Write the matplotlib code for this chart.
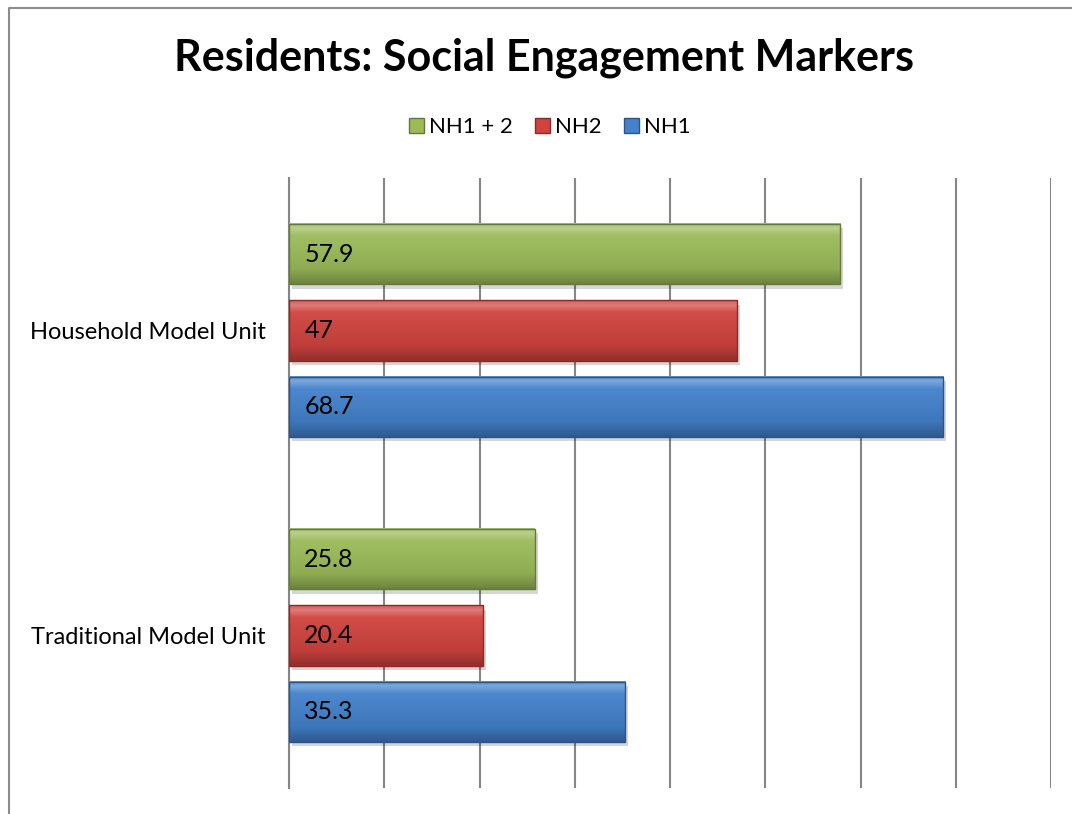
import numpy as np
import matplotlib.pyplot as plt
from matplotlib.colors import to_rgb
from matplotlib.lines import Line2D
from matplotlib.patches import Patch

# Chart data
categories = ["Traditional Model Unit", "Household Model Unit"]
series = ["NH1 + 2", "NH2", "NH1"]
nh1_2 = [25.8, 57.9]
nh2 = [20.4, 47]
nh1 = [35.3, 68.7]

values = {"NH1 + 2": nh1_2, "NH2": nh2, "NH1": nh1}
offsets = {"NH1 + 2": 0.25, "NH2": 0.0, "NH1": -0.25}
colors = {"NH1 + 2": "#9bbb59", "NH2": "#d0433e", "NH1": "#4381cb"}

plt.rcParams["font.family"] = ["Lato", "DejaVu Sans"]

fig = plt.figure(figsize=(10.72, 8.14), dpi=100)
ax = fig.add_axes([289 / 1072, 26 / 814, 762 / 1072, 610 / 814])

bar_h = 0.197


def shade(c, f):
    r = np.array(to_rgb(c))
    if f >= 0:
        return r + (1 - r) * f
    return r * (1 + f)


# Bars with a vertical gradient, a soft shadow and a darker rim
for name in series:
    for i, v in enumerate(values[name]):
        y = i + offsets[name]
        y0, y1 = y - bar_h / 2, y + bar_h / 2
        ax.barh(y - 0.014, v, height=bar_h, left=0.3, color="black",
                alpha=0.16, zorder=2, linewidth=0)
        base = colors[name]
        t = np.linspace(0, 1, 80)[:, None]
        stops = np.array([0.0, 0.08, 0.2, 0.75, 1.0])
        cols = np.array([shade(base, 0.15), shade(base, 0.3), shade(base, 0.05),
                         shade(base, -0.08), shade(base, -0.3)])
        grad = np.stack([np.interp(t[:, 0], stops, cols[:, k]) for k in range(3)], axis=1)
        ax.imshow(grad[:, None, :], extent=(0, v, y0, y1), aspect="auto",
                  origin="upper", zorder=3, interpolation="bilinear")
        ax.barh(y, v, height=bar_h, color="none",
                edgecolor=shade(base, -0.35), linewidth=1.0, zorder=4)
        ax.text(1.6, y, f"{v:g}", va="center", ha="left", fontsize=18,
                color="black", zorder=5)

ax.set_xlim(0, 80)
ax.set_ylim(-0.5, 1.5)
ax.set_xticks(np.arange(0, 81, 10))
ax.set_xticklabels([])
ax.tick_params(axis="x", length=0)
ax.grid(axis="x", color="#868686", linewidth=1.5, zorder=0)
ax.set_axisbelow(True)
ax.set_yticks([0, 1])
ax.set_yticklabels(categories, fontsize=17)
ax.tick_params(axis="y", length=0, pad=17)
for s in ["top", "right", "bottom"]:
    ax.spines[s].set_visible(False)
ax.spines["left"].set_color("#868686")
ax.spines["left"].set_linewidth(1.5)

fig.text(544 / 1072, 1 - 58 / 814, "Residents: Social Engagement Markers",
         ha="center", va="center", fontsize=31, fontweight="bold")

handles = [Patch(facecolor=colors[n], edgecolor=shade(colors[n], -0.35)) for n in series]
fig.legend(handles, series, loc="center", bbox_to_anchor=(550 / 1072, 1 - 127 / 814),
           ncol=3, frameon=False, fontsize=16, handlelength=0.65, handleheight=0.65,
           handletextpad=0.25, columnspacing=1.0)

# Frame lines along the left and top
fig.add_artist(Line2D([9 / 1072, 9 / 1072, 1.0], [0, 1 - 8 / 814, 1 - 8 / 814],
                      transform=fig.transFigure, color="#8c8c8c", linewidth=1.5))

fig.savefig("out.png", dpi=100)
